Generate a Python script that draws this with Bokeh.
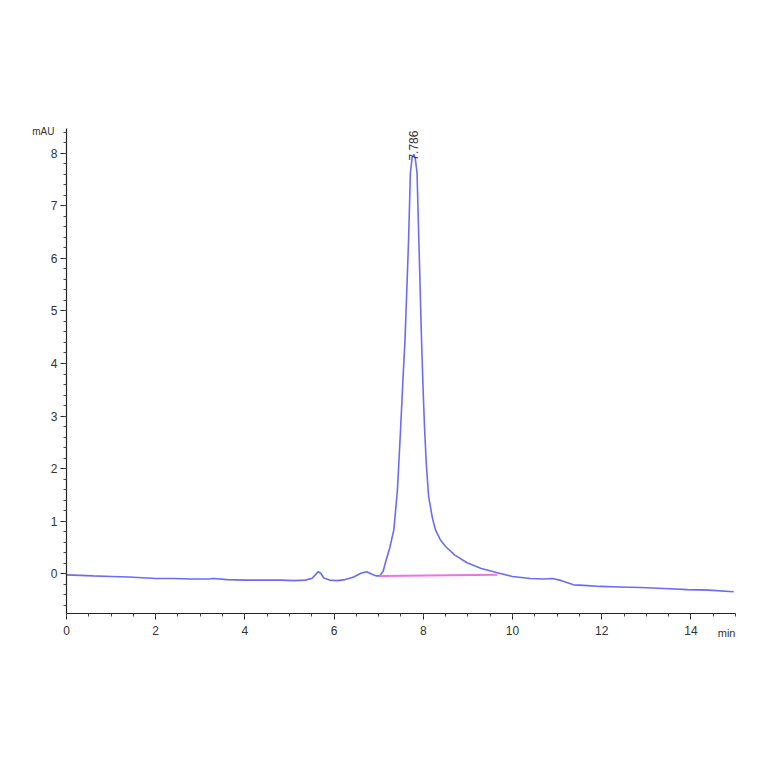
import numpy as np
from math import pi
from bokeh.plotting import figure
from bokeh.models import Range1d, Label, FixedTicker
from bokeh.embed import file_html
from bokeh.resources import INLINE

# chromatogram trace (min, mAU)
time_min = [0.0, 0.3, 0.6, 1.0, 1.4, 1.8, 2.0, 2.4, 2.8, 3.2, 3.3, 3.6, 4.0, 4.4,
            4.8, 5.1, 5.35, 5.5, 5.58, 5.64, 5.70, 5.77, 5.9, 6.07, 6.25, 6.44,
            6.6, 6.73, 6.85, 6.95, 7.02, 7.10, 7.15, 7.25, 7.34, 7.42, 7.49, 7.55,
            7.59, 7.63, 7.67, 7.71, 7.75, 7.786, 7.82, 7.86, 7.90, 7.96, 8.00,
            8.03, 8.07, 8.12, 8.20, 8.27, 8.38, 8.50, 8.70, 8.98, 9.3, 9.66, 10.0,
            10.4, 10.7, 10.9, 11.1, 11.37, 11.6, 11.97, 12.4, 12.87, 13.4, 13.92,
            14.4, 14.96]
signal_mau = [-0.02, -0.03, -0.04, -0.05, -0.06, -0.08, -0.09, -0.09, -0.10, -0.10,
              -0.09, -0.11, -0.12, -0.12, -0.12, -0.13, -0.12, -0.09, -0.02, 0.04,
              0.01, -0.08, -0.12, -0.13, -0.11, -0.06, 0.01, 0.04, -0.01, -0.04,
              -0.04, 0.05, 0.21, 0.50, 0.84, 1.6, 2.74, 3.8, 4.45, 5.4, 6.35, 7.62,
              7.92, 7.98, 7.90, 7.62, 6.35, 4.45, 3.4, 2.74, 2.05, 1.47, 1.08, 0.84,
              0.65, 0.52, 0.36, 0.21, 0.10, 0.02, -0.05, -0.09, -0.10, -0.09, -0.13,
              -0.21, -0.22, -0.24, -0.25, -0.26, -0.28, -0.30, -0.31, -0.34]

# integration baseline of the main peak
base_t = [7.02, 9.66]
base_v = [-0.04, -0.02]

peak_rt = 7.786
peak_label = "7.786"

x_ticks = [0, 2, 4, 6, 8, 10, 12, 14]
y_ticks = [0, 1, 2, 3, 4, 5, 6, 7, 8]
x_axis_span = (0, 15)
y_axis_span = (-0.755, 8.47)

p = figure(frame_width=740, frame_height=740,
           min_border_left=0, min_border_top=0,
           min_border_right=0, min_border_bottom=0,
           output_backend="svg", toolbar_location=None, tools="")

p.line(time_min, signal_mau, line_color="#5c5cf0", line_width=1.6, line_alpha=0.9)
p.line(base_t, base_v, line_color="#f070e8", line_width=2)

# ranges wider than the axes so that the side texts stay inside the frame
p.x_range = Range1d(-1.4798, 15.1121)
p.y_range = Range1d(-3.1706, 10.9046)
p.grid.visible = False
p.outline_line_color = None

font = "Liberation Sans"
p.xaxis.ticker = FixedTicker(ticks=x_ticks, minor_ticks=list(np.arange(0, 15.01, 0.5)))
p.yaxis.ticker = FixedTicker(ticks=y_ticks, minor_ticks=list(np.arange(-0.6, 8.45, 0.2)))
p.xaxis.fixed_location = y_axis_span[0]
p.yaxis.fixed_location = x_axis_span[0]
p.xaxis.bounds = x_axis_span
p.yaxis.bounds = y_axis_span
for ax in (p.xaxis, p.yaxis):
    ax.axis_line_color = "#222222"
    ax.axis_line_width = 1.2
    ax.major_tick_line_color = "#222222"
    ax.minor_tick_line_color = "#444444"
    ax.major_tick_in = 0
    ax.major_tick_out = 6
    ax.minor_tick_in = 0
    ax.minor_tick_out = 3
    ax.major_label_text_font = font
    ax.major_label_text_font_size = "12px"
    ax.major_label_text_color = "#333333"
p.xaxis.major_label_standoff = 6
p.yaxis.major_label_standoff = 3

p.add_layout(Label(x=-0.27, y=8.42, text="mAU", text_align="right",
                   text_baseline="middle", text_font=font, text_font_size="10px",
                   text_color="#333333"))
p.add_layout(Label(x=14.8, y=-1.13, text="min", text_align="center",
                   text_baseline="middle", text_font=font, text_font_size="11px",
                   text_color="#333333"))
p.add_layout(Label(x=peak_rt, y=7.86, text=peak_label, angle=pi / 2,
                   text_align="left", text_baseline="middle", text_font=font,
                   text_font_size="12px", text_color="#333333"))

open("out.html", "w").write(file_html(p, INLINE))
